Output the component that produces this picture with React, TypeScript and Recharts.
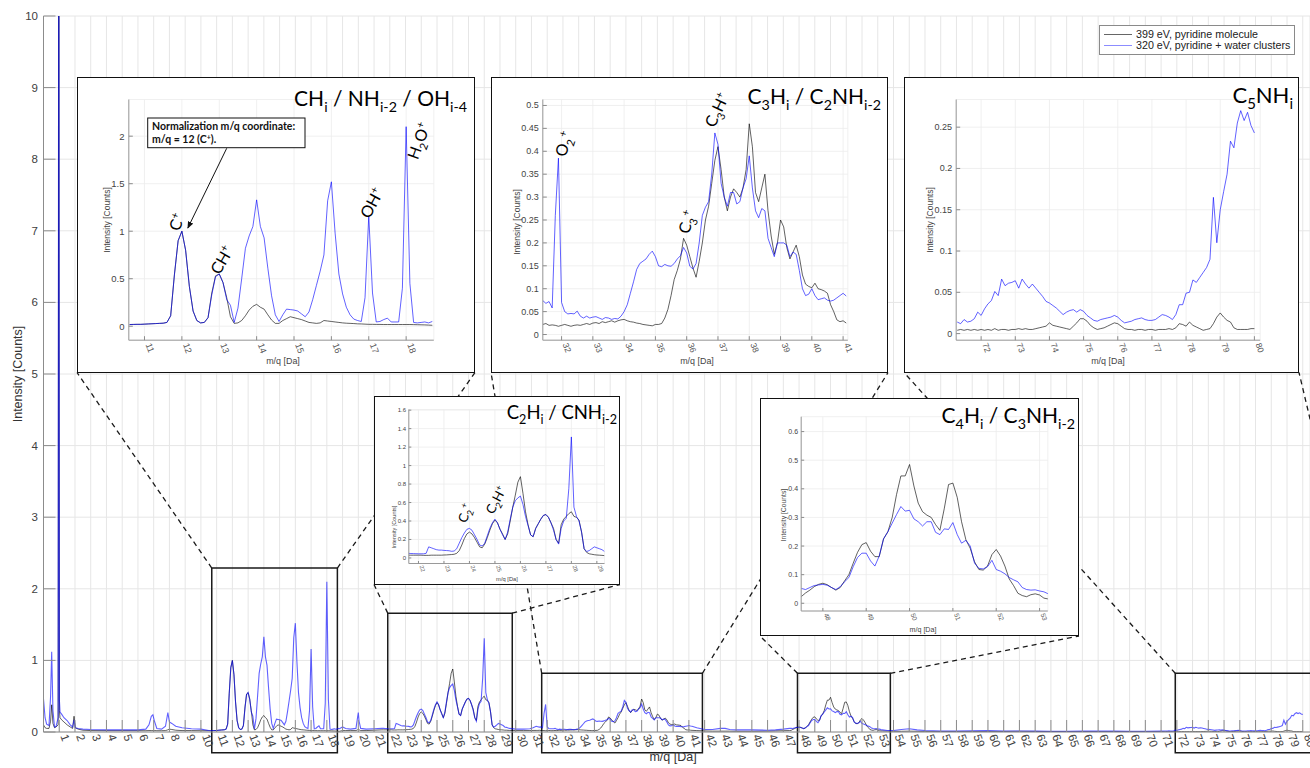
import React from 'react';
import { LineChart, Line, XAxis, YAxis, CartesianGrid, ReferenceArea, ReferenceLine, Legend } from 'recharts';

const SANS = '"Liberation Sans", Arial, Helvetica, sans-serif';
const CAL = 'Lato, "Noto Sans", sans-serif';

// ---------------- data ----------------
const seriesNames = ['399 eV, pyridine molecule', '320 eV, pyridine + water clusters'];
const mainXTicks = [1,2,3,4,5,6,7,8,9,10,11,12,13,14,15,16,17,18,19,20,21,22,23,24,25,26,27,28,29,30,31,32,33,34,35,36,37,38,39,40,41,42,43,44,45,46,47,48,49,50,51,52,53,54,55,56,57,58,59,60,61,62,63,64,65,66,67,68,69,70,71,72,73,74,75,76,77,78,79,80];
const mainYTicks = [0,1,2,3,4,5,6,7,8,9,10];

// 0 - 10.5 Da (main view only)
const gap0X = [0,0.1,0.2,0.35,0.45,0.52,0.6,0.7,0.8,0.93,0.97,1.01,1.05,1.15,1.3,1.5,1.7,1.85,1.94,2.02,2.2,2.5,3,4,5,6,6.5,6.7,6.85,6.95,7.05,7.2,7.5,7.75,7.9,8.0,8.15,8.4,8.8,9.4,10,10.5];
const gap0Black = [0.1,0.06,0.05,0.05,0.15,0.38,0.12,0.06,0.07,0.1,12,0.3,0.2,0.17,0.14,0.1,0.07,0.05,0.22,0.06,0.04,0.025,0.02,0.018,0.018,0.018,0.018,0.02,0.02,0.02,0.02,0.018,0.018,0.02,0.03,0.04,0.035,0.025,0.02,0.02,0.018,0.018];
const gap0Blue = [0.46,0.2,0.11,0.09,0.5,1.12,0.3,0.07,0.08,0.2,14,0.45,0.28,0.25,0.2,0.16,0.1,0.07,0.17,0.06,0.05,0.04,0.035,0.03,0.03,0.03,0.04,0.1,0.22,0.24,0.15,0.05,0.04,0.08,0.27,0.14,0.12,0.08,0.06,0.045,0.04,0.02];

// 10.6 - 18.7 Da, step 0.1 (CH_i / NH_i-2 / OH_i-4)
const r1Start = 10.6;
const r1Black = [0.018,0.019,0.02,0.02,0.022,0.024,0.026,0.028,0.03,0.032, 0.04,0.11,0.54,0.9,1.0,0.8,0.42,0.16,0.06,0.035, 0.04,0.09,0.35,0.53,0.55,0.46,0.3,0.1,0.03,0.035, 0.06,0.11,0.17,0.21,0.23,0.2,0.18,0.12,0.065,0.03, 0.03,0.06,0.08,0.1,0.09,0.08,0.07,0.055,0.04,0.035, 0.03,0.035,0.06,0.055,0.05,0.045,0.04,0.035,0.032,0.03, 0.028,0.025,0.024,0.022,0.02,0.02,0.019,0.019,0.018,0.018, 0.018,0.018,0.018,0.018,0.018,0.018,0.017,0.016,0.015,0.014, 0.012,0.01];
const r1Blue = [0.018,0.019,0.02,0.02,0.022,0.024,0.026,0.028,0.03,0.032, 0.04,0.11,0.54,0.9,1.0,0.8,0.42,0.16,0.06,0.035, 0.04,0.09,0.33,0.52,0.55,0.46,0.28,0.22,0.04,0.19, 0.5,0.82,0.95,1.05,1.33,1.05,0.93,0.61,0.32,0.12, 0.05,0.12,0.18,0.175,0.17,0.16,0.13,0.1,0.15,0.28, 0.43,0.58,0.75,1.32,1.52,0.98,0.55,0.34,0.2,0.12, 0.075,0.06,0.05,0.3,1.16,0.35,0.045,0.05,0.07,0.085, 0.045,0.045,0.045,0.4,2.1,0.45,0.04,0.035,0.04,0.045, 0.035,0.05];

const gapAX = [18.8,19.0,19.2,19.5,19.85,19.95,20.0,20.05,20.15,20.5,21.0,21.5];
const gapABlack = [0.01,0.02,0.02,0.02,0.02,0.03,0.04,0.03,0.02,0.02,0.025,0.03];
const gapABlue = [0.045,0.07,0.05,0.04,0.05,0.2,0.27,0.15,0.05,0.04,0.045,0.05];

// 21.6 - 29.3 Da, step 0.1 (C2H_i / CNH_i-2)
const r2Start = 21.6;
const r2Black = [0.03,0.03,0.03,0.03,0.03,0.03,0.028,0.028,0.028,0.03, 0.03,0.03,0.03,0.03,0.032,0.033,0.035,0.037,0.04,0.05, 0.08,0.14,0.21,0.26,0.28,0.26,0.22,0.17,0.12,0.11, 0.15,0.22,0.3,0.37,0.41,0.38,0.31,0.26,0.2,0.26, 0.4,0.55,0.68,0.82,0.88,0.7,0.5,0.36,0.25,0.23, 0.32,0.37,0.42,0.46,0.47,0.44,0.38,0.32,0.2,0.16, 0.36,0.42,0.45,0.48,0.5,0.45,0.44,0.41,0.28,0.1, 0.06,0.045,0.04,0.035,0.032,0.03,0.028,0.025];
const r2Blue = [0.05,0.048,0.047,0.046,0.045,0.045,0.045,0.05,0.12,0.11, 0.1,0.09,0.085,0.085,0.082,0.08,0.078,0.072,0.075,0.1, 0.16,0.22,0.27,0.31,0.32,0.3,0.25,0.2,0.14,0.13, 0.16,0.24,0.32,0.38,0.42,0.38,0.31,0.25,0.2,0.28, 0.42,0.55,0.62,0.65,0.67,0.58,0.45,0.35,0.25,0.23, 0.32,0.37,0.42,0.46,0.47,0.44,0.38,0.3,0.2,0.15, 0.32,0.4,0.43,0.75,1.31,0.55,0.45,0.4,0.28,0.1, 0.07,0.08,0.1,0.12,0.11,0.1,0.09,0.07];

const gapBX = [29.4,29.6,30.0,30.5,30.9,31.1,31.3];
const gapBBlack = [0.025,0.022,0.02,0.02,0.02,0.022,0.022];
const gapBBlue = [0.065,0.05,0.04,0.04,0.045,0.06,0.08];

// 31.4 - 41.1 Da, step 0.1 (C3H_i / C2NH_i-2)
const r3Start = 31.4;
const r3Black = [0.022,0.024,0.02,0.021,0.02,0.018,0.02,0.022,0.02,0.018, 0.02,0.021,0.02,0.022,0.024,0.022,0.025,0.026,0.024,0.028, 0.026,0.028,0.03,0.027,0.03,0.032,0.033,0.03,0.028,0.027, 0.025,0.024,0.022,0.021,0.02,0.019,0.022,0.022,0.024,0.036, 0.055,0.085,0.12,0.14,0.165,0.21,0.195,0.17,0.145,0.125, 0.16,0.2,0.25,0.28,0.33,0.38,0.41,0.36,0.3,0.27, 0.3,0.318,0.31,0.3,0.32,0.36,0.46,0.41,0.31,0.29, 0.32,0.35,0.27,0.215,0.175,0.2,0.25,0.235,0.19,0.165, 0.18,0.195,0.17,0.13,0.11,0.105,0.102,0.112,0.1,0.098, 0.095,0.09,0.065,0.05,0.032,0.028,0.03,0.025];
const r3Blue = [0.074,0.068,0.072,0.058,0.26,0.385,0.07,0.05,0.045,0.046, 0.045,0.051,0.04,0.036,0.04,0.036,0.038,0.039,0.036,0.033, 0.037,0.036,0.033,0.035,0.034,0.04,0.05,0.065,0.09,0.115, 0.142,0.155,0.16,0.165,0.175,0.182,0.17,0.15,0.148,0.153, 0.15,0.149,0.155,0.165,0.172,0.19,0.178,0.149,0.143,0.155, 0.2,0.26,0.278,0.29,0.35,0.44,0.415,0.33,0.3,0.28, 0.31,0.31,0.285,0.29,0.32,0.34,0.39,0.32,0.27,0.255, 0.275,0.27,0.21,0.19,0.17,0.2,0.2,0.2,0.195,0.17, 0.18,0.175,0.14,0.1,0.085,0.088,0.1,0.085,0.076,0.078, 0.08,0.075,0.073,0.075,0.08,0.085,0.09,0.084];

const gapCX = [41.2,41.5,42,42.5,43,43.3,43.6,44,45,46,46.5,47,47.4];
const gapCBlack = [0.023,0.02,0.015,0.012,0.012,0.012,0.012,0.01,0.01,0.012,0.015,0.018,0.02];
const gapCBlue = [0.08,0.06,0.035,0.035,0.05,0.05,0.035,0.03,0.03,0.025,0.03,0.04,0.05];

// 47.5 - 53.2 Da, step 0.1 (C4H_i / C3NH_i-2)
const r4Start = 47.5;
const r4Black = [0.023,0.036,0.046,0.058,0.066,0.07,0.065,0.055,0.046,0.055, 0.078,0.1,0.14,0.178,0.205,0.212,0.182,0.163,0.163,0.225, 0.25,0.3,0.38,0.445,0.445,0.485,0.41,0.35,0.32,0.308, 0.3,0.275,0.255,0.33,0.415,0.42,0.37,0.285,0.222,0.192, 0.145,0.118,0.116,0.13,0.17,0.188,0.165,0.13,0.085,0.062, 0.035,0.027,0.023,0.03,0.033,0.029,0.018,0.015];
const r4Blue = [0.052,0.048,0.055,0.062,0.064,0.066,0.063,0.055,0.048,0.058, 0.075,0.09,0.128,0.16,0.175,0.175,0.148,0.13,0.165,0.225, 0.25,0.28,0.31,0.338,0.322,0.325,0.295,0.285,0.27,0.285, 0.285,0.248,0.24,0.26,0.258,0.282,0.24,0.21,0.22,0.2, 0.14,0.122,0.12,0.128,0.15,0.118,0.112,0.103,0.09,0.082, 0.075,0.055,0.048,0.046,0.047,0.043,0.04,0.033];

const gapDX = [53.3,53.6,54,54.5,55,55.5,56,57,58,59,60,61,62,63,64,65,66,67,68,69,70,71,71.2];
const gapDBlack = [0.015,0.012,0.01,0.01,0.012,0.01,0.008,0.008,0.008,0.008,0.008,0.008,0.01,0.008,0.006,0.006,0.006,0.006,0.006,0.006,0.005,0.005,0.005];
const gapDBlue = [0.03,0.02,0.02,0.035,0.045,0.03,0.02,0.015,0.015,0.018,0.02,0.015,0.015,0.012,0.01,0.01,0.012,0.012,0.012,0.01,0.01,0.012,0.013];

// 71.3 - 80.0 Da, step 0.1 (C5NH_i)
const r5Start = 71.3;
const r5Black = [0.004,0.005,0.004,0.005,0.004,0.005,0.004,0.005,0.004,0.005, 0.004,0.006,0.004,0.005,0.005,0.004,0.005,0.005,0.006,0.005, 0.006,0.005,0.005,0.006,0.007,0.008,0.009,0.013,0.01,0.009, 0.008,0.007,0.006,0.005,0.009,0.013,0.018,0.018,0.015,0.01, 0.007,0.005,0.006,0.007,0.009,0.011,0.013,0.012,0.009,0.006, 0.005,0.005,0.004,0.005,0.005,0.004,0.005,0.005,0.004,0.005, 0.005,0.005,0.006,0.005,0.007,0.012,0.011,0.009,0.014,0.01, 0.008,0.006,0.004,0.005,0.006,0.012,0.02,0.025,0.02,0.016, 0.014,0.007,0.005,0.005,0.005,0.005,0.006,0.006];
const r5Blue = [0.014,0.012,0.017,0.014,0.015,0.018,0.026,0.022,0.03,0.036, 0.04,0.051,0.046,0.066,0.058,0.061,0.062,0.064,0.055,0.066, 0.06,0.055,0.06,0.055,0.05,0.045,0.039,0.037,0.034,0.031, 0.027,0.023,0.026,0.028,0.029,0.026,0.029,0.027,0.022,0.019, 0.016,0.015,0.017,0.018,0.019,0.02,0.022,0.02,0.016,0.013, 0.014,0.015,0.017,0.018,0.019,0.017,0.016,0.016,0.017,0.02, 0.023,0.022,0.02,0.017,0.023,0.035,0.035,0.049,0.05,0.065, 0.062,0.068,0.074,0.08,0.09,0.165,0.11,0.15,0.172,0.193, 0.233,0.225,0.255,0.27,0.258,0.268,0.252,0.243];

const STEP = 0.1;

type Pt = { x: number; black: number; blue: number };
const onGrid = (start: number, black: number[], blue: number[]): Pt[] =>
  black.map((b, i) => ({ x: Math.round((start + i * STEP) * 100) / 100, black: b, blue: blue[i] }));
const onList = (xs: number[], black: number[], blue: number[]): Pt[] =>
  xs.map((x, i) => ({ x, black: black[i], blue: blue[i] }));

const region1 = onGrid(r1Start, r1Black, r1Blue);
const region2 = onGrid(r2Start, r2Black, r2Blue);
const region3 = onGrid(r3Start, r3Black, r3Blue);
const region4 = onGrid(r4Start, r4Black, r4Blue);
const region5 = onGrid(r5Start, r5Black, r5Blue);
const mainData: Pt[] = [
  ...onList(gap0X, gap0Black, gap0Blue), ...region1, ...onList(gapAX, gapABlack, gapABlue),
  ...region2, ...onList(gapBX, gapBBlack, gapBBlue), ...region3, ...onList(gapCX, gapCBlack, gapCBlue),
  ...region4, ...onList(gapDX, gapDBlack, gapDBlue), ...region5,
];

// ---------------- layout ----------------
const W = 1310, H = 768;
const PLOT = { top: 16, right: 0, bottom: 36, left: 43.5 }; // distances of the plot area from the edges
const AX = 1; // axis band size (must be > 0 for the axis to render)
const M = { top: PLOT.top, right: PLOT.right, bottom: PLOT.bottom - AX, left: PLOT.left - AX };
const X_MAX = 80.46;
const toDX = (px: number) => ((px - PLOT.left) / (W - PLOT.left - PLOT.right)) * X_MAX;
const toDY = (py: number) => ((H - PLOT.bottom - py) / (H - PLOT.top - PLOT.bottom)) * 10;

const BLACK = '#000000';
const BLUE = '#0000ff';
const OPA = 0.62;

type Box = { l: number; t: number; r: number; b: number };
type InsetCfg = {
  box: Box; plot: Box; data: Pt[]; xDomain: [number, number]; yDomain: [number, number];
  xTicks: number[]; yTicks: number[]; font: number; labFont: number;
  ylab: [number, number]; xlab: [number, number]; tickLen: number;
};

const insets: InsetCfg[] = [
  { box: { l: 77, t: 77, r: 475, b: 372.5 }, plot: { l: 129.3, t: 100, r: 434.3, b: 340.7 }, data: region1,
    xDomain: [10.58, 18.74], yDomain: [-0.147, 2.386], xTicks: [11,12,13,14,15,16,17,18], yTicks: [0,0.5,1,1.5,2],
    font: 9.5, labFont: 8.5, ylab: [106.5, 220], xlab: [283, 361], tickLen: 4 },
  { box: { l: 374, t: 396, r: 620, b: 584.5 }, plot: { l: 409.3, t: 410, r: 605, b: 564 }, data: region2,
    xDomain: [21.62, 29.3], yDomain: [-0.06, 1.607], xTicks: [22,23,24,25,26,27,28,29], yTicks: [0,0.2,0.4,0.6,0.8,1,1.2,1.4,1.6],
    font: 6, labFont: 5.5, ylab: [394, 527], xlab: [507, 578.5], tickLen: 2.5 },
  { box: { l: 491, t: 77, r: 888, b: 372.5 }, plot: { l: 543.3, t: 100, r: 848.3, b: 340.7 }, data: region3,
    xDomain: [31.4, 41.15], yDomain: [-0.0124, 0.513], xTicks: [32,33,34,35,36,37,38,39,40,41], yTicks: [0,0.05,0.1,0.15,0.2,0.25,0.3,0.35,0.4,0.45,0.5],
    font: 9, labFont: 8.5, ylab: [517, 222], xlab: [697, 361], tickLen: 4 },
  { box: { l: 760, t: 397.5, r: 1079, b: 636 }, plot: { l: 801.7, t: 416.7, r: 1048.3, b: 611 }, data: region4,
    xDomain: [47.5, 53.19], yDomain: [-0.027, 0.652], xTicks: [48,49,50,51,52,53], yTicks: [0,0.1,0.2,0.3,0.4,0.5,0.6],
    font: 7, labFont: 6.8, ylab: [783, 515], xlab: [923, 630], tickLen: 3 },
  { box: { l: 904, t: 77, r: 1299, b: 372.5 }, plot: { l: 956.7, t: 100, r: 1260.7, b: 340.7 }, data: region5,
    xDomain: [71.27, 80.17], yDomain: [-0.008, 0.2835], xTicks: [72,73,74,75,76,77,78,79,80], yTicks: [0,0.05,0.1,0.15,0.2,0.25],
    font: 9, labFont: 8.5, ylab: [930, 220], xlab: [1108, 361], tickLen: 4 },
];

// zoom windows drawn on the main axes (data units), each linked to an inset
const WIN_BOTTOM = -0.29;
const zoomWindows = [
  { x1: 10.69, x2: 18.67, top: 2.29, inset: 0 },
  { x1: 21.87, x2: 29.78, top: 1.66, inset: 1 },
  { x1: 31.65, x2: 41.86, top: 0.82, inset: 2 },
  { x1: 47.9, x2: 53.8, top: 0.82, inset: 3 },
  { x1: 71.9, x2: 84.3, top: 0.82, inset: 4 },
];

// ---------------- annotation text ----------------
type Seg = { t: string; sub?: boolean; sup?: boolean };
const titles: { segs: Seg[]; x: number; y: number; size: number }[] = [
  { segs: [{ t: 'CH' }, { t: 'i', sub: true }, { t: ' / NH' }, { t: 'i-2', sub: true }, { t: ' / OH' }, { t: 'i-4', sub: true }], x: 467, y: 106, size: 21 },
  { segs: [{ t: 'C' }, { t: '2', sub: true }, { t: 'H' }, { t: 'i', sub: true }, { t: ' / CNH' }, { t: 'i-2', sub: true }], x: 617, y: 419, size: 18.5 },
  { segs: [{ t: 'C' }, { t: '3', sub: true }, { t: 'H' }, { t: 'i', sub: true }, { t: ' / C' }, { t: '2', sub: true }, { t: 'NH' }, { t: 'i-2', sub: true }], x: 881, y: 104, size: 21 },
  { segs: [{ t: 'C' }, { t: '4', sub: true }, { t: 'H' }, { t: 'i', sub: true }, { t: ' / C' }, { t: '3', sub: true }, { t: 'NH' }, { t: 'i-2', sub: true }], x: 1075, y: 423, size: 21 },
  { segs: [{ t: 'C' }, { t: '5', sub: true }, { t: 'NH' }, { t: 'i', sub: true }], x: 1293, y: 103, size: 22 },
];
const peakLabels: { segs: Seg[]; cx: number; cy: number; rot: number; size: number }[] = [
  { segs: [{ t: 'C' }, { t: '+', sup: true }], cx: 177, cy: 222, rot: -70, size: 16 },
  { segs: [{ t: 'CH' }, { t: '+', sup: true }], cx: 222, cy: 260, rot: -60, size: 16 },
  { segs: [{ t: 'OH' }, { t: '+', sup: true }], cx: 372, cy: 203, rot: -62, size: 16 },
  { segs: [{ t: 'H' }, { t: '2', sub: true }, { t: 'O' }, { t: '+', sup: true }], cx: 419, cy: 141, rot: -70, size: 16 },
  { segs: [{ t: 'O' }, { t: '2', sub: true }, { t: '+', sup: true }], cx: 564, cy: 144, rot: -72, size: 16 },
  { segs: [{ t: 'C' }, { t: '3', sub: true }, { t: '+', sup: true }], cx: 687, cy: 222, rot: -72, size: 16 },
  { segs: [{ t: 'C' }, { t: '3', sub: true }, { t: 'H' }, { t: '+', sup: true }], cx: 717, cy: 110, rot: -65, size: 16 },
  { segs: [{ t: 'C' }, { t: '2', sub: true }, { t: '+', sup: true }], cx: 465, cy: 513, rot: -72, size: 13 },
  { segs: [{ t: 'C' }, { t: '2', sub: true }, { t: 'H' }, { t: '+', sup: true }], cx: 496, cy: 500, rot: -62, size: 13 },
];

function Rich({ segs, size, x, y, anchor, rot, central }: { segs: Seg[]; size: number; x: number; y: number; anchor: string; rot?: number; central?: boolean }) {
  let cur = 0;
  const spans = segs.map((s, i) => {
    const target = s.sub ? size * 0.28 : s.sup ? -size * 0.38 : 0;
    const dy = target - cur;
    cur = target;
    return (
      <tspan key={i} dy={dy} fontSize={s.sub || s.sup ? size * 0.68 : size}>{s.t}</tspan>
    );
  });
  return (
    <text x={x} y={central ? y + size * 0.35 : y} textAnchor={anchor as any} fontFamily={CAL} fontSize={size} fill="#000"
      transform={rot ? `rotate(${rot} ${x} ${y})` : undefined}>
      {spans}
    </text>
  );
}

// ---------------- ticks ----------------
const makeXTick = (font: number, len: number, dy: number, color: string) => (props: any) => {
  const { x, y, payload } = props;
  const tx = x + 1;
  const ty = y + dy;
  return (
    <g>
      <line x1={x} x2={x} y1={y} y2={y - len} stroke="#8c8c8c" strokeWidth={1} />
      <text x={tx} y={ty} transform={`rotate(70 ${tx} ${ty})`} fontSize={font} fill={color} fontFamily={SANS}>
        {payload.value}
      </text>
    </g>
  );
};
const fmt = (v: number) => String(Math.round(v * 1000) / 1000);
const makeYTick = (font: number, len: number, gap: number, color: string) => (props: any) => {
  const { x, y, payload } = props;
  return (
    <g>
      <line x1={x} x2={x + len} y1={y} y2={y} stroke="#8c8c8c" strokeWidth={1} />
      <text x={x - gap} y={y} textAnchor="end" dominantBaseline="central" fontSize={font} fill={color} fontFamily={SANS}>
        {fmt(payload.value)}
      </text>
    </g>
  );
};

const mainXTick = makeXTick(11.5, 12, 4, '#404040');
const mainYTick = makeYTick(11.5, 12, 5.5, '#404040');

function Inset({ cfg }: { cfg: InsetCfg }) {
  const bw = 1.5;
  const w = cfg.box.r - cfg.box.l;
  const h = cfg.box.b - cfg.box.t;
  const iw = w - 2 * bw;
  const ih = h - 2 * bw;
  const ox = cfg.box.l + bw;
  const oy = cfg.box.t + bw;
  const margin = { left: cfg.plot.l - ox - AX, top: cfg.plot.t - oy, right: ox + iw - cfg.plot.r, bottom: oy + ih - cfg.plot.b - AX };
  const xt = makeXTick(cfg.font * 0.95, cfg.tickLen, cfg.font * 0.45, '#555');
  const yt = makeYTick(cfg.font, cfg.tickLen, cfg.font * 0.45, '#444');
  return (
    <div style={{ position: 'absolute', left: cfg.box.l, top: cfg.box.t, width: w, height: h, boxSizing: 'border-box', border: `${bw}px solid #111`, background: '#fff' }}>
      <LineChart width={iw} height={ih} data={cfg.data} margin={margin}>
        <CartesianGrid stroke="#ececec" strokeWidth={0.8} />
        <XAxis type="number" dataKey="x" domain={cfg.xDomain} ticks={cfg.xTicks} allowDataOverflow interval={0}
          height={AX} tickSize={0} tickMargin={0} tickLine={false} axisLine={{ stroke: '#9a9a9a' }} tick={xt} />
        <YAxis type="number" domain={cfg.yDomain} ticks={cfg.yTicks} allowDataOverflow interval={0}
          width={AX} tickSize={0} tickMargin={0} tickLine={false} axisLine={{ stroke: '#9a9a9a' }} tick={yt} />
        <Line type="linear" dataKey="black" stroke={BLACK} strokeOpacity={OPA} strokeWidth={1} dot={false} isAnimationActive={false} />
        <Line type="linear" dataKey="blue" stroke={BLUE} strokeOpacity={OPA} strokeWidth={1} dot={false} isAnimationActive={false} />
      </LineChart>
    </div>
  );
}

function LegendBox() {
  const rows = [
    { name: seriesNames[0], color: BLACK },
    { name: seriesNames[1], color: BLUE },
  ];
  return (
    <div style={{ width: 196, height: 30, boxSizing: 'border-box', border: '1px solid #8a8a8a', background: '#fff', position: 'relative', fontFamily: SANS, fontSize: 10.7, color: '#222' }}>
      {rows.map((r, i) => (
        <div key={i} style={{ position: 'absolute', left: 3, top: 3 + i * 11.3, height: 11, display: 'flex', alignItems: 'center', whiteSpace: 'nowrap' }}>
          <svg width={30} height={11} style={{ display: 'block' }}>
            <line x1={1} x2={29} y1={5.5} y2={5.5} stroke={r.color} strokeOpacity={i === 0 ? 0.6 : 0.45} strokeWidth={1} />
          </svg>
          <span style={{ marginLeft: 3, lineHeight: '11px' }}>{r.name}</span>
        </div>
      ))}
    </div>
  );
}

export default function App() {
  const connectors: { a: { x: number; y: number }; b: { x: number; y: number } }[] = [];
  zoomWindows.forEach((w) => {
    const box = insets[w.inset].box;
    connectors.push({ a: { x: w.x1, y: w.top }, b: { x: toDX(box.l), y: toDY(box.b) } });
    connectors.push({ a: { x: w.x2, y: w.top }, b: { x: toDX(box.r), y: toDY(box.b) } });
  });

  return (
    <div style={{ position: 'absolute', left: 0, top: 0, width: W, height: H, background: '#fff', overflow: 'hidden' }}>
      <LineChart width={W} height={H} data={mainData} margin={M}>
        <CartesianGrid stroke="#e6e6e6" strokeWidth={1} />
        <XAxis type="number" dataKey="x" domain={[0, X_MAX]} ticks={mainXTicks} allowDataOverflow interval={0}
          height={AX} tickSize={0} tickMargin={0} tickLine={false} axisLine={{ stroke: '#8c8c8c' }} tick={mainXTick} />
        <YAxis type="number" domain={[0, 10]} ticks={mainYTicks} allowDataOverflow interval={0}
          width={AX} tickSize={0} tickMargin={0} tickLine={false} axisLine={{ stroke: '#8c8c8c' }} tick={mainYTick} />
        <Line type="linear" dataKey="black" name={seriesNames[0]} stroke={BLACK} strokeOpacity={OPA} strokeWidth={1} dot={false} isAnimationActive={false} />
        <Line type="linear" dataKey="blue" name={seriesNames[1]} stroke={BLUE} strokeOpacity={OPA} strokeWidth={1.1} dot={false} isAnimationActive={false} />
        {zoomWindows.map((w, i) => (
          <ReferenceArea key={`w${i}`} x1={w.x1} x2={w.x2} y1={WIN_BOTTOM} y2={w.top} ifOverflow="visible"
            fill="#fff" fillOpacity={0} stroke="#1a1a1a" strokeWidth={1.5} />
        ))}
        {connectors.map((c, i) => (
          <ReferenceLine key={`c${i}`} segment={[c.a, c.b]} ifOverflow="visible" stroke="#1a1a1a" strokeWidth={1.3} strokeDasharray="5 4" />
        ))}
        <Legend layout="horizontal" verticalAlign="middle" align="center" content={() => <LegendBox />}
          wrapperStyle={{ position: 'absolute', left: 1099, top: 25, width: 196, height: 30 }} />
      </LineChart>

      {insets.map((cfg, i) => <Inset key={i} cfg={cfg} />)}

      <svg width={W} height={H} style={{ position: 'absolute', left: 0, top: 0, pointerEvents: 'none' }}>
        <defs>
          <marker id="arrowHead" viewBox="0 0 10 10" refX="9" refY="5" markerWidth="7" markerHeight="7" orient="auto-start-reverse">
            <path d="M0,1 L10,5 L0,9 z" fill="#111" />
          </marker>
        </defs>
        <text x={18} y={374} transform="rotate(-90 18 374)" textAnchor="middle" dominantBaseline="central" fontFamily={SANS} fontSize={12.5} fill="#333">Intensity [Counts]</text>
        <text x={673} y={761} textAnchor="middle" fontFamily={SANS} fontSize={12.5} fill="#333">m/q [Da]</text>
        {insets.map((cfg, i) => (
          <g key={`il${i}`}>
            <text x={cfg.ylab[0]} y={cfg.ylab[1]} transform={`rotate(-90 ${cfg.ylab[0]} ${cfg.ylab[1]})`} textAnchor="middle" dominantBaseline="central" fontFamily={SANS} fontSize={cfg.labFont} fill="#444">Intensity [Counts]</text>
            <text x={cfg.xlab[0]} y={cfg.xlab[1]} textAnchor="middle" dominantBaseline="central" fontFamily={SANS} fontSize={cfg.labFont * 1.05} fill="#444">m/q [Da]</text>
          </g>
        ))}
        {titles.map((t, i) => <Rich key={`t${i}`} segs={t.segs} size={t.size} x={t.x} y={t.y} anchor="end" />)}
        {peakLabels.map((p, i) => <Rich key={`p${i}`} segs={p.segs} size={p.size} x={p.cx} y={p.cy} anchor="middle" rot={p.rot} central />)}
        <rect x={147.7} y={118} width={157.3} height={29.7} fill="#fff" stroke="#111" strokeWidth={1} />
        <text x={152} y={130} fontFamily={CAL} fontSize={10.5} fontWeight={700} fill="#111">Normalization m/q coordinate:</text>
        <text x={152} y={143} fontFamily={CAL} fontSize={10.5} fontWeight={700} fill="#111">m/q = 12 (C<tspan dy={-3} fontSize={7}>+</tspan><tspan dy={3}>).</tspan></text>
        <line x1={226.7} y1={148.3} x2={187.8} y2={228} stroke="#111" strokeWidth={1} markerEnd="url(#arrowHead)" />
      </svg>
    </div>
  );
}
